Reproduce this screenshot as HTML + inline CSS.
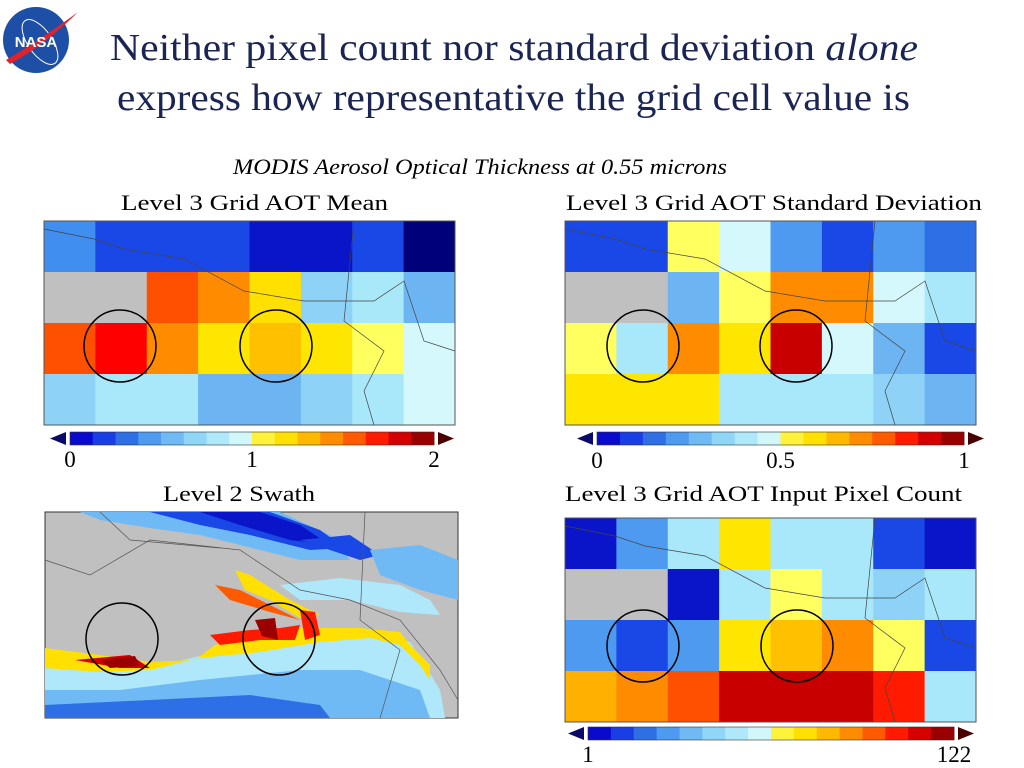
<!DOCTYPE html>
<html><head><meta charset="utf-8"><style>
body{margin:0;width:1024px;height:768px;background:#fff;overflow:hidden;font-family:"Liberation Serif",serif}
svg{position:absolute;left:0;top:0}
</style></head><body>
<svg width="1024" height="768" viewBox="0 0 1024 768">
<g>
<circle cx="36" cy="40" r="33" fill="#1d4fa6"/>
<ellipse cx="40" cy="42" rx="12" ry="26" fill="none" stroke="#fff" stroke-width="1" transform="rotate(-35 40 42)"/>
<path d="M6 60 Q40 40 78 12 Q45 45 10 64Z" fill="#e0232b"/>
<text x="36" y="47" font-family="Liberation Sans,sans-serif" font-weight="bold" font-size="15" fill="#fff" text-anchor="middle">NASA</text>
</g>
<text x="110" y="60" font-size="38" fill="#1b2553" textLength="808" lengthAdjust="spacingAndGlyphs">Neither pixel count nor standard deviation <tspan font-style="italic">alone</tspan></text>
<text x="117" y="110" font-size="38" fill="#1b2553" textLength="793" lengthAdjust="spacingAndGlyphs">express how representative the grid cell value is</text>
<text x="233" y="174" font-size="22" font-style="italic" fill="#000" textLength="494" lengthAdjust="spacingAndGlyphs">MODIS Aerosol Optical Thickness at 0.55 microns</text>
<text x="121" y="210" font-size="22" textLength="267" lengthAdjust="spacingAndGlyphs">Level 3 Grid AOT Mean</text>
<text x="566" y="210" font-size="22" textLength="416" lengthAdjust="spacingAndGlyphs">Level 3 Grid AOT Standard Deviation</text>
<text x="163" y="501" font-size="22" textLength="152" lengthAdjust="spacingAndGlyphs">Level 2 Swath</text>
<text x="565" y="501" font-size="22" textLength="397" lengthAdjust="spacingAndGlyphs">Level 3 Grid AOT Input Pixel Count</text>
<g id="panels"></g>
<g>
<rect x="45" y="512" width="413" height="206" fill="#c0c0c0" stroke="#333"/>
<path d="M80 512 L280 512 L330 535 L350 560 L300 560 L240 545 L200 535 L150 528 L100 520Z" fill="#6fbaf5"/>
<path d="M150 512 L270 512 L320 530 L345 548 L310 550 L250 535 L200 525Z" fill="#1a48e6"/>
<path d="M200 512 L260 512 L300 525 L330 545 L290 540 L240 525Z" fill="#0a14c8"/>
<path d="M300 540 L350 535 L380 555 L360 560Z" fill="#1a48e6"/>
<path d="M370 550 L420 545 L458 560 L458 600 L420 590 L380 575Z" fill="#6fbaf5"/>
<path d="M280 585 L340 578 L400 585 L430 600 L440 615 L400 612 L350 600 L300 600Z" fill="#aee8fa"/>
<path d="M45 668 L100 672 L150 668 L200 656 L260 650 L320 640 L370 633 L410 642 L425 665 L440 690 L445 718 L45 718Z" fill="#aee8fa"/>
<path d="M45 690 L120 690 L200 680 L300 670 L360 670 L420 690 L430 718 L45 718Z" fill="#6fbaf5"/>
<path d="M45 705 L150 700 L250 695 L320 705 L330 718 L45 718Z" fill="#2e6fe6"/>
<path d="M45 648 L100 655 L150 662 L195 660 L215 645 L250 636 L300 628 L360 628 L400 632 L410 645 L430 665 L430 680 L420 665 L400 645 L370 638 L320 642 L260 652 L200 658 L150 670 L100 672 L45 668Z" fill="#ffe000"/>
<path d="M235 570 L250 575 L290 600 L320 615 L300 618 L270 600 L245 590Z" fill="#ffe000"/>
<path d="M75 660 L130 655 L150 668 L120 668Z" fill="#d40000"/>
<path d="M215 585 L240 590 L280 610 L300 620 L270 612 L230 600Z" fill="#ff5a00"/>
<path d="M210 635 L250 630 L280 628 L300 625 L295 640 L260 640 L220 645Z" fill="#ff1a00"/>
<path d="M300 610 L315 612 L320 635 L305 640Z" fill="#ff1a00"/>
<path d="M255 620 L275 618 L278 640 L262 636Z" fill="#9a0000"/>
<path d="M100 660 L135 656 L140 666 L110 668Z" fill="#9a0000"/>
<path d="M45 560 L90 575 L150 540 L240 550 L300 590 L350 600 L400 620 L440 670 L458 700" fill="none" stroke="#555" stroke-width="0.7"/>
<path d="M100 512 L130 540 L220 548" fill="none" stroke="#555" stroke-width="0.7"/>
<path d="M365 512 L360 620 L400 650 L380 718" fill="none" stroke="#555" stroke-width="0.7"/>
<circle cx="122" cy="639" r="36" fill="none" stroke="#000" stroke-width="1.5"/>
<circle cx="279" cy="639" r="36" fill="none" stroke="#000" stroke-width="1.5"/>
</g>
</svg>
<script>
const meanGrid=[
["#3f8ef0","#1a48e6","#1a48e6","#1a48e6","#0a14c8","#0a14c8","#1a48e6","#00007a"],
["#c0c0c0","#c0c0c0","#ff5000","#ff8c00","#ffe000","#8ed2f7","#a8e8f8","#6cb4f2"],
["#ff5000","#ff0000","#ff8c00","#ffe600","#ffc000","#ffe600","#ffff60","#d4f8fb"],
["#8ed2f7","#a8e8fa","#a8e8fa","#6cb4f2","#6cb4f2","#8ed2f7","#a8e8fa","#d4f8fb"]];
const stdGrid=[
["#1a48e6","#1a48e6","#ffff60","#d4f8fb","#4d9af0","#1a48e6","#4d9af0","#2e6fe6"],
["#c0c0c0","#c0c0c0","#6cb4f2","#ffff60","#ff8c00","#ff8c00","#d4f8fb","#a8e8fa"],
["#ffff60","#a8e8fa","#ff8c00","#ffe600","#c80000","#d4f8fb","#6cb4f2","#1a48e6"],
["#ffe600","#ffe600","#ffe600","#a8e8fa","#a8e8fa","#a8e8fa","#8ed2f7","#6cb4f2"]];
const countGrid=[
["#0a14c8","#4d9af0","#a8e8fa","#ffe600","#a8e8fa","#a8e8fa","#1a48e6","#0a14c8"],
["#c0c0c0","#c0c0c0","#0a14c8","#a8e8fa","#ffff60","#a8e8fa","#8ed2f7","#a8e8fa"],
["#4d9af0","#1a48e6","#4d9af0","#ffe600","#ffc000","#ff8c00","#ffff60","#1a48e6"],
["#ffb000","#ff8c00","#ff5000","#c80000","#c80000","#c80000","#ff1a00","#a8e8fa"]];
const cmap=["#0a0acd","#1a3ee6","#2e6fe6","#4d9af0","#6fbaf5","#8fd6f7","#aee8fa","#d2f7fb","#fff23a","#ffe000","#ffb800","#ff8c00","#ff5a00","#ff1a00","#d40000","#9a0000"];
const ticksMean=["0","1","2"],ticksStd=["0","0.5","1"],ticksCount=["1","122"];
const NS="http://www.w3.org/2000/svg";
const root=document.getElementById("panels");
function mk(t,a,p){const e=document.createElementNS(NS,t);for(const k in a)e.setAttribute(k,a[k]);(p||root).appendChild(e);return e;}
function panel(name,grid,x0,y0,w,h,circles){
 const g=mk("g",{});
 
 
 const cw=w/8,ch=h/4;
 grid.forEach((row,r)=>row.forEach((c,i)=>{const e=mk("rect",{x:x0+i*cw,y:y0+r*ch,width:cw+0.5,height:ch+0.5,fill:c},g);
 
 }));
 mk("path",{d:`M${x0} ${y0+8} L${x0+50} ${y0+18} L${x0+80} ${y0+28} L${x0+140} ${y0+38} L${x0+200} ${y0+70} L${x0+260} ${y0+80} L${x0+330} ${y0+80} L${x0+360} ${y0+60} L${x0+380} ${y0+120} L${x0+411} ${y0+130}`,fill:"none",stroke:"#444","stroke-width":0.7},g);
 mk("path",{d:`M${x0+310} ${y0} L${x0+300} ${y0+100} L${x0+340} ${y0+130} L${x0+320} ${y0+170} L${x0+330} ${y0+204}`,fill:"none",stroke:"#444","stroke-width":0.7},g);
 mk("rect",{x:x0,y:y0,width:w,height:h,fill:"none",stroke:"#555"},g);
 circles.forEach(c=>mk("circle",{cx:c[0],cy:c[1],r:36,fill:"none",stroke:"#000","stroke-width":1.5},g));
}
function cbar(name,x0,x1,y,ticks,ly){
 const g=mk("g",{});
 
 
 const w=(x1-x0)/cmap.length;
 cmap.forEach((c,i)=>mk("rect",{x:x0+i*w,y:y,width:w+0.4,height:13,fill:c},g));
 mk("rect",{x:x0,y:y,width:x1-x0,height:13,fill:"none",stroke:"#333","stroke-width":0.6},g);
 mk("path",{d:`M${x0-4} ${y} L${x0-20} ${y+6.5} L${x0-4} ${y+13}Z`,fill:"#0a0a6a"},g);
 mk("path",{d:`M${x1+4} ${y} L${x1+20} ${y+6.5} L${x1+4} ${y+13}Z`,fill:"#4a0000"},g);
 ticks.forEach((t,i)=>{const x=x0+(x1-x0)*i/(ticks.length-1);
 const e=mk("text",{x:x,y:ly,"font-size":23,"text-anchor":"middle"},g);e.textContent=t;
 
 });
}
panel("mean-grid-map",meanGrid,44,221,411,204,[[120,346],[276,346]]);
panel("std-grid-map",stdGrid,565,221,411,204,[[643,346],[796,346]]);
panel("count-grid-map",countGrid,565,518,411,204,[[643,646],[797,646]]);
cbar("mean-colorbar",70,434,432,ticksMean,467);
cbar("std-colorbar",597,964,432,ticksStd,468);
cbar("count-colorbar",588,954,727,ticksCount,762);
</script>
</body></html>
